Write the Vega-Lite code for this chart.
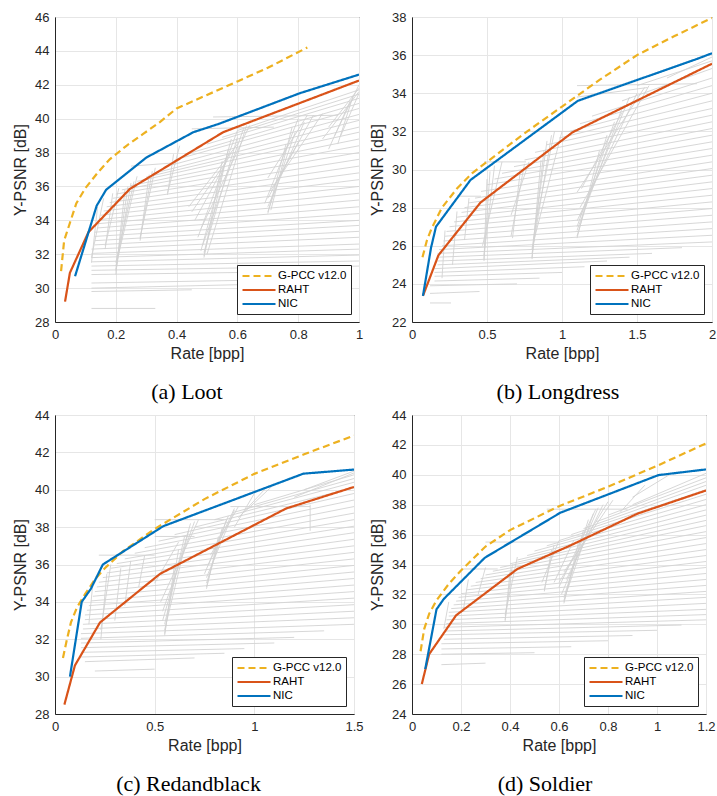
{
"$schema": "https://vega.github.io/schema/vega-lite/v6.json",
"background": "white",
"padding": {"left": 12, "top": 10, "right": 0, "bottom": 0},
"config": {
  "view": {"stroke": "#262626", "strokeWidth": 1},
  "font": "Liberation Sans",
  "axis": {"labelFont": "Liberation Sans", "labelFontSize": 13, "labelColor": "#262626", "titleFont": "Liberation Sans", "titleFontSize": 16, "titleFontWeight": "normal", "titleColor": "#262626", "gridColor": "#e6e6e6", "domainColor": "#262626", "ticks": false, "labelPadding": 6, "format": "~g", "labelFlush": false, "labelOverlap": false},
  "axisY": {"titlePadding": 6},
  "axisX": {"titlePadding": 4},
  "legend": {"orient": "bottom-right", "offset": 8, "fillColor": "white", "strokeColor": "#262626", "padding": 4, "labelFont": "Liberation Sans", "labelFontSize": 11.5, "labelColor": "#000", "symbolType": "M-1,0H5", "symbolSize": 121, "symbolStrokeWidth": 2.2, "labelOffset": 23, "rowPadding": 1, "cornerRadius": 0},
  "title": {"orient": "bottom", "font": "Liberation Serif", "fontSize": 22, "fontWeight": "normal", "color": "#000", "offset": 21, "frame": "group", "anchor": "middle"}
},
"resolve": {"scale": {"color": "independent", "strokeDash": "independent"}, "legend": {"color": "independent", "strokeDash": "independent"}},
"datasets": {
"m": [
{"p":"a","s":"G-PCC v12.0","x":0.02,"y":31.0},{"p":"a","s":"G-PCC v12.0","x":0.03,"y":32.8},{"p":"a","s":"G-PCC v12.0","x":0.05,"y":33.9},{"p":"a","s":"G-PCC v12.0","x":0.07,"y":35.0},{"p":"a","s":"G-PCC v12.0","x":0.1,"y":35.9},{"p":"a","s":"G-PCC v12.0","x":0.14,"y":36.8},{"p":"a","s":"G-PCC v12.0","x":0.18,"y":37.6},{"p":"a","s":"G-PCC v12.0","x":0.235,"y":38.4},{"p":"a","s":"G-PCC v12.0","x":0.29,"y":39.1},{"p":"a","s":"G-PCC v12.0","x":0.345,"y":39.8},{"p":"a","s":"G-PCC v12.0","x":0.4,"y":40.6},{"p":"a","s":"G-PCC v12.0","x":0.5,"y":41.4},{"p":"a","s":"G-PCC v12.0","x":0.6,"y":42.2},{"p":"a","s":"G-PCC v12.0","x":0.7,"y":43.0},{"p":"a","s":"G-PCC v12.0","x":0.83,"y":44.2},
{"p":"a","s":"RAHT","x":0.033,"y":29.2},{"p":"a","s":"RAHT","x":0.049,"y":30.9},{"p":"a","s":"RAHT","x":0.11,"y":33.3},{"p":"a","s":"RAHT","x":0.246,"y":35.85},{"p":"a","s":"RAHT","x":0.553,"y":39.2},{"p":"a","s":"RAHT","x":1.0,"y":42.25},
{"p":"a","s":"NIC","x":0.066,"y":30.7},{"p":"a","s":"NIC","x":0.137,"y":34.86},{"p":"a","s":"NIC","x":0.168,"y":35.8},{"p":"a","s":"NIC","x":0.3,"y":37.7},{"p":"a","s":"NIC","x":0.455,"y":39.2},{"p":"a","s":"NIC","x":0.54,"y":39.7},{"p":"a","s":"NIC","x":0.805,"y":41.5},{"p":"a","s":"NIC","x":1.0,"y":42.6},
{"p":"b","s":"G-PCC v12.0","x":0.07,"y":25.4},{"p":"b","s":"G-PCC v12.0","x":0.1,"y":26.3},{"p":"b","s":"G-PCC v12.0","x":0.13,"y":26.9},{"p":"b","s":"G-PCC v12.0","x":0.2,"y":28.0},{"p":"b","s":"G-PCC v12.0","x":0.3,"y":29.0},{"p":"b","s":"G-PCC v12.0","x":0.4,"y":29.8},{"p":"b","s":"G-PCC v12.0","x":0.5,"y":30.4},{"p":"b","s":"G-PCC v12.0","x":0.75,"y":31.9},{"p":"b","s":"G-PCC v12.0","x":1.0,"y":33.3},{"p":"b","s":"G-PCC v12.0","x":1.25,"y":34.7},{"p":"b","s":"G-PCC v12.0","x":1.5,"y":36.0},{"p":"b","s":"G-PCC v12.0","x":1.75,"y":37.0},{"p":"b","s":"G-PCC v12.0","x":2.0,"y":37.95},
{"p":"b","s":"RAHT","x":0.073,"y":23.37},{"p":"b","s":"RAHT","x":0.176,"y":25.5},{"p":"b","s":"RAHT","x":0.457,"y":28.27},{"p":"b","s":"RAHT","x":1.07,"y":31.95},{"p":"b","s":"RAHT","x":2.0,"y":35.55},
{"p":"b","s":"NIC","x":0.073,"y":23.37},{"p":"b","s":"NIC","x":0.127,"y":25.9},{"p":"b","s":"NIC","x":0.16,"y":27.0},{"p":"b","s":"NIC","x":0.39,"y":29.45},{"p":"b","s":"NIC","x":1.105,"y":33.6},{"p":"b","s":"NIC","x":1.9,"y":35.8},{"p":"b","s":"NIC","x":2.0,"y":36.1},
{"p":"c","s":"G-PCC v12.0","x":0.04,"y":31.0},{"p":"c","s":"G-PCC v12.0","x":0.06,"y":32.0},{"p":"c","s":"G-PCC v12.0","x":0.08,"y":32.9},{"p":"c","s":"G-PCC v12.0","x":0.11,"y":33.7},{"p":"c","s":"G-PCC v12.0","x":0.15,"y":34.4},{"p":"c","s":"G-PCC v12.0","x":0.2,"y":35.2},{"p":"c","s":"G-PCC v12.0","x":0.25,"y":35.8},{"p":"c","s":"G-PCC v12.0","x":0.34,"y":36.7},{"p":"c","s":"G-PCC v12.0","x":0.5,"y":37.9},{"p":"c","s":"G-PCC v12.0","x":0.75,"y":39.5},{"p":"c","s":"G-PCC v12.0","x":1.0,"y":40.85},{"p":"c","s":"G-PCC v12.0","x":1.25,"y":41.9},{"p":"c","s":"G-PCC v12.0","x":1.5,"y":42.9},
{"p":"c","s":"RAHT","x":0.047,"y":28.5},{"p":"c","s":"RAHT","x":0.1,"y":30.6},{"p":"c","s":"RAHT","x":0.226,"y":32.9},{"p":"c","s":"RAHT","x":0.527,"y":35.5},{"p":"c","s":"RAHT","x":1.16,"y":39.0},{"p":"c","s":"RAHT","x":1.5,"y":40.15},
{"p":"c","s":"NIC","x":0.075,"y":30.0},{"p":"c","s":"NIC","x":0.134,"y":34.0},{"p":"c","s":"NIC","x":0.18,"y":34.7},{"p":"c","s":"NIC","x":0.24,"y":36.0},{"p":"c","s":"NIC","x":0.543,"y":38.05},{"p":"c","s":"NIC","x":1.246,"y":40.86},{"p":"c","s":"NIC","x":1.5,"y":41.08},
{"p":"d","s":"G-PCC v12.0","x":0.035,"y":28.2},{"p":"d","s":"G-PCC v12.0","x":0.05,"y":29.7},{"p":"d","s":"G-PCC v12.0","x":0.07,"y":30.7},{"p":"d","s":"G-PCC v12.0","x":0.1,"y":31.6},{"p":"d","s":"G-PCC v12.0","x":0.15,"y":32.7},{"p":"d","s":"G-PCC v12.0","x":0.2,"y":33.6},{"p":"d","s":"G-PCC v12.0","x":0.3,"y":35.2},{"p":"d","s":"G-PCC v12.0","x":0.4,"y":36.3},{"p":"d","s":"G-PCC v12.0","x":0.5,"y":37.1},{"p":"d","s":"G-PCC v12.0","x":0.6,"y":37.9},{"p":"d","s":"G-PCC v12.0","x":0.8,"y":39.2},{"p":"d","s":"G-PCC v12.0","x":1.0,"y":40.6},{"p":"d","s":"G-PCC v12.0","x":1.2,"y":42.1},
{"p":"d","s":"RAHT","x":0.04,"y":26.0},{"p":"d","s":"RAHT","x":0.07,"y":28.0},{"p":"d","s":"RAHT","x":0.18,"y":30.6},{"p":"d","s":"RAHT","x":0.43,"y":33.7},{"p":"d","s":"RAHT","x":0.65,"y":35.3},{"p":"d","s":"RAHT","x":0.92,"y":37.4},{"p":"d","s":"RAHT","x":1.2,"y":38.95},
{"p":"d","s":"NIC","x":0.054,"y":27.0},{"p":"d","s":"NIC","x":0.1,"y":31.0},{"p":"d","s":"NIC","x":0.13,"y":31.7},{"p":"d","s":"NIC","x":0.297,"y":34.45},{"p":"d","s":"NIC","x":0.605,"y":37.46},{"p":"d","s":"NIC","x":1.006,"y":39.98},{"p":"d","s":"NIC","x":1.2,"y":40.36}
],
"g": [
{"p":"a","x":0.12,"y":28.8,"x2":0.33,"y2":28.8},{"p":"a","x":0.12,"y":29.8,"x2":0.45,"y2":29.9},{"p":"a","x":0.12,"y":30.0,"x2":0.6,"y2":30.2},{"p":"a","x":0.12,"y":30.3,"x2":0.75,"y2":30.5},{"p":"a","x":0.12,"y":30.8,"x2":0.92,"y2":31.0},{"p":"a","x":0.12,"y":31.05,"x2":1.0,"y2":31.3},{"p":"a","x":0.12,"y":31.3,"x2":1.0,"y2":31.6},{"p":"a","x":0.12,"y":31.55,"x2":1.0,"y2":31.95},{"p":"a","x":0.12,"y":31.8,"x2":1.0,"y2":32.3},{"p":"a","x":0.12,"y":32.05,"x2":1.0,"y2":32.6},{"p":"a","x":0.12,"y":32.3,"x2":1.0,"y2":33.0},{"p":"a","x":0.13,"y":32.55,"x2":1.0,"y2":33.35},{"p":"a","x":0.13,"y":32.8,"x2":1.0,"y2":33.7},{"p":"a","x":0.13,"y":33.05,"x2":1.0,"y2":34.0},{"p":"a","x":0.13,"y":33.3,"x2":1.0,"y2":34.4},{"p":"a","x":0.14,"y":33.55,"x2":1.0,"y2":34.8},{"p":"a","x":0.14,"y":33.8,"x2":1.0,"y2":35.2},{"p":"a","x":0.15,"y":34.05,"x2":1.0,"y2":35.6},{"p":"a","x":0.15,"y":34.3,"x2":1.0,"y2":36.0},{"p":"a","x":0.16,"y":34.55,"x2":1.0,"y2":36.4},{"p":"a","x":0.17,"y":34.8,"x2":1.0,"y2":36.8},{"p":"a","x":0.18,"y":35.05,"x2":1.0,"y2":37.2},{"p":"a","x":0.19,"y":35.3,"x2":1.0,"y2":37.6},{"p":"a","x":0.2,"y":35.55,"x2":1.0,"y2":38.0},{"p":"a","x":0.22,"y":35.8,"x2":1.0,"y2":38.4},{"p":"a","x":0.25,"y":36.05,"x2":1.0,"y2":38.8},{"p":"a","x":0.27,"y":36.3,"x2":1.0,"y2":39.2},{"p":"a","x":0.3,"y":36.55,"x2":1.0,"y2":39.5},{"p":"a","x":0.33,"y":36.8,"x2":1.0,"y2":39.9},{"p":"a","x":0.37,"y":37.2,"x2":1.0,"y2":40.25},{"p":"a","x":0.4,"y":37.6,"x2":1.0,"y2":40.6},{"p":"a","x":0.45,"y":38.0,"x2":1.0,"y2":40.9},{"p":"a","x":0.5,"y":38.5,"x2":1.0,"y2":41.2},{"p":"a","x":0.55,"y":38.9,"x2":1.0,"y2":41.45},{"p":"a","x":0.6,"y":39.3,"x2":1.0,"y2":41.7},
{"p":"a","x":0.45,"y":39.4,"x2":0.72,"y2":39.5},{"p":"a","x":0.52,"y":40.1,"x2":0.93,"y2":40.2},{"p":"a","x":0.25,"y":37.2,"x2":0.4,"y2":37.4},
{"p":"a","x":0.12,"y":31.5,"x2":0.14,"y2":34.8},{"p":"a","x":0.12,"y":31.8,"x2":0.16,"y2":35.3},{"p":"a","x":0.165,"y":32.3,"x2":0.19,"y2":35.6},{"p":"a","x":0.165,"y":32.5,"x2":0.21,"y2":35.9},{"p":"a","x":0.2,"y":30.8,"x2":0.23,"y2":35.8},{"p":"a","x":0.2,"y":31.0,"x2":0.25,"y2":36.2},{"p":"a","x":0.2,"y":31.1,"x2":0.24,"y2":36.0},{"p":"a","x":0.2,"y":31.3,"x2":0.27,"y2":36.6},{"p":"a","x":0.2,"y":31.5,"x2":0.26,"y2":36.3},{"p":"a","x":0.28,"y":32.8,"x2":0.31,"y2":36.7},{"p":"a","x":0.28,"y":32.9,"x2":0.32,"y2":36.9},{"p":"a","x":0.28,"y":33.0,"x2":0.33,"y2":37.1},{"p":"a","x":0.37,"y":35.5,"x2":0.39,"y2":37.9},{"p":"a","x":0.37,"y":35.6,"x2":0.41,"y2":38.4},
{"p":"a","x":0.49,"y":31.8,"x2":0.55,"y2":37.5},{"p":"a","x":0.49,"y":31.9,"x2":0.57,"y2":38.2},{"p":"a","x":0.49,"y":32.1,"x2":0.6,"y2":38.9},{"p":"a","x":0.48,"y":32.2,"x2":0.58,"y2":38.8},{"p":"a","x":0.485,"y":32.5,"x2":0.62,"y2":39.4},{"p":"a","x":0.47,"y":33.0,"x2":0.6,"y2":39.3},{"p":"a","x":0.5,"y":32.0,"x2":0.63,"y2":39.6},{"p":"a","x":0.48,"y":33.5,"x2":0.64,"y2":39.6},{"p":"a","x":0.46,"y":34.0,"x2":0.58,"y2":38.0},{"p":"a","x":0.45,"y":34.5,"x2":0.56,"y2":37.4},{"p":"a","x":0.44,"y":34.8,"x2":0.6,"y2":38.5},
{"p":"a","x":0.7,"y":34.4,"x2":0.76,"y2":38.5},{"p":"a","x":0.7,"y":34.5,"x2":0.79,"y2":39.2},{"p":"a","x":0.7,"y":34.8,"x2":0.82,"y2":39.8},{"p":"a","x":0.69,"y":35.0,"x2":0.8,"y2":40.0},{"p":"a","x":0.7,"y":35.3,"x2":0.85,"y2":40.2},{"p":"a","x":0.71,"y":35.8,"x2":0.88,"y2":40.3},{"p":"a","x":0.72,"y":36.0,"x2":0.8,"y2":38.6},{"p":"a","x":0.7,"y":36.5,"x2":0.83,"y2":40.2},{"p":"a","x":0.71,"y":34.6,"x2":0.78,"y2":39.5},
{"p":"a","x":0.93,"y":38.5,"x2":0.98,"y2":41.3},{"p":"a","x":0.9,"y":38.2,"x2":0.97,"y2":41.0},{"p":"a","x":0.94,"y":39.0,"x2":1.0,"y2":41.5},{"p":"a","x":0.88,"y":38.8,"x2":1.0,"y2":41.6},{"p":"a","x":0.9,"y":39.5,"x2":1.0,"y2":41.8},{"p":"a","x":0.92,"y":39.0,"x2":1.0,"y2":42.0},
{"p":"b","x":0.12,"y":23.0,"x2":0.26,"y2":23.0},{"p":"b","x":0.12,"y":23.5,"x2":0.45,"y2":23.6},{"p":"b","x":0.12,"y":23.9,"x2":0.7,"y2":24.0},{"p":"b","x":0.15,"y":24.15,"x2":0.85,"y2":24.3},{"p":"b","x":0.15,"y":24.4,"x2":1.0,"y2":24.6},{"p":"b","x":0.15,"y":24.6,"x2":1.15,"y2":24.9},{"p":"b","x":0.15,"y":24.8,"x2":1.3,"y2":25.2},{"p":"b","x":0.17,"y":25.0,"x2":1.45,"y2":25.4},{"p":"b","x":0.17,"y":25.2,"x2":1.6,"y2":25.6},{"p":"b","x":0.17,"y":25.4,"x2":1.8,"y2":25.9},{"p":"b","x":0.17,"y":25.6,"x2":2.0,"y2":26.2},{"p":"b","x":0.18,"y":25.8,"x2":2.0,"y2":26.55},{"p":"b","x":0.2,"y":26.0,"x2":2.0,"y2":26.9},{"p":"b","x":0.21,"y":26.25,"x2":2.0,"y2":27.25},{"p":"b","x":0.22,"y":26.5,"x2":2.0,"y2":27.6},{"p":"b","x":0.23,"y":26.75,"x2":2.0,"y2":27.95},{"p":"b","x":0.25,"y":27.0,"x2":2.0,"y2":28.3},{"p":"b","x":0.28,"y":27.25,"x2":2.0,"y2":28.65},{"p":"b","x":0.3,"y":27.5,"x2":2.0,"y2":29.0},{"p":"b","x":0.33,"y":27.75,"x2":2.0,"y2":29.35},{"p":"b","x":0.35,"y":28.0,"x2":2.0,"y2":29.7},{"p":"b","x":0.38,"y":28.25,"x2":2.0,"y2":30.05},{"p":"b","x":0.42,"y":28.5,"x2":2.0,"y2":30.4},{"p":"b","x":0.46,"y":28.85,"x2":2.0,"y2":30.75},{"p":"b","x":0.5,"y":29.2,"x2":2.0,"y2":31.1},{"p":"b","x":0.55,"y":29.5,"x2":2.0,"y2":31.45},{"p":"b","x":0.6,"y":29.8,"x2":2.0,"y2":31.8},{"p":"b","x":0.68,"y":30.15,"x2":2.0,"y2":32.15},{"p":"b","x":0.75,"y":30.5,"x2":2.0,"y2":32.5},{"p":"b","x":0.82,"y":30.9,"x2":2.0,"y2":32.85},{"p":"b","x":0.9,"y":31.3,"x2":2.0,"y2":33.2},{"p":"b","x":0.98,"y":31.65,"x2":2.0,"y2":33.6},{"p":"b","x":1.05,"y":32.0,"x2":2.0,"y2":34.0},{"p":"b","x":1.12,"y":32.4,"x2":2.0,"y2":34.4},{"p":"b","x":1.2,"y":32.8,"x2":2.0,"y2":34.8},{"p":"b","x":1.4,"y":33.6,"x2":2.0,"y2":35.3},
{"p":"b","x":0.3,"y":28.6,"x2":0.46,"y2":28.6},{"p":"b","x":0.48,"y":30.4,"x2":0.76,"y2":30.4},{"p":"b","x":0.76,"y":32.0,"x2":1.12,"y2":32.0},{"p":"b","x":1.1,"y":34.4,"x2":1.9,"y2":34.5},{"p":"b","x":1.1,"y":33.8,"x2":1.57,"y2":34.3},
{"p":"b","x":0.2,"y":24.3,"x2":0.22,"y2":26.8},{"p":"b","x":0.27,"y":25.0,"x2":0.3,"y2":27.8},{"p":"b","x":0.35,"y":26.3,"x2":0.38,"y2":28.5},{"p":"b","x":0.48,"y":25.2,"x2":0.5,"y2":29.5},{"p":"b","x":0.48,"y":25.3,"x2":0.52,"y2":29.9},{"p":"b","x":0.48,"y":25.5,"x2":0.55,"y2":30.2},{"p":"b","x":0.47,"y":26.0,"x2":0.6,"y2":30.4},{"p":"b","x":0.67,"y":26.4,"x2":0.72,"y2":29.8},{"p":"b","x":0.66,"y":26.5,"x2":0.75,"y2":30.3},{"p":"b","x":0.66,"y":27.6,"x2":0.78,"y2":30.4},{"p":"b","x":0.8,"y":25.3,"x2":0.86,"y2":30.5},{"p":"b","x":0.8,"y":25.4,"x2":0.88,"y2":31.0},{"p":"b","x":0.8,"y":25.6,"x2":0.93,"y2":31.8},{"p":"b","x":0.8,"y":25.8,"x2":0.9,"y2":31.5},{"p":"b","x":0.81,"y":26.2,"x2":1.0,"y2":32.0},{"p":"b","x":0.82,"y":27.0,"x2":0.95,"y2":32.0},{"p":"b","x":1.1,"y":26.4,"x2":1.25,"y2":31.0},{"p":"b","x":1.1,"y":26.5,"x2":1.3,"y2":31.8},{"p":"b","x":1.1,"y":26.8,"x2":1.4,"y2":33.2},{"p":"b","x":1.1,"y":27.0,"x2":1.35,"y2":32.5},{"p":"b","x":1.1,"y":27.3,"x2":1.5,"y2":34.0},{"p":"b","x":1.12,"y":27.5,"x2":1.45,"y2":33.8},{"p":"b","x":1.12,"y":28.0,"x2":1.58,"y2":34.4},{"p":"b","x":1.1,"y":28.8,"x2":1.55,"y2":34.3},{"p":"b","x":1.13,"y":29.0,"x2":1.4,"y2":33.0},{"p":"b","x":1.5,"y":34.4,"x2":2.0,"y2":35.7},{"p":"b","x":1.7,"y":34.8,"x2":2.0,"y2":35.9},
{"p":"c","x":0.2,"y":30.3,"x2":0.5,"y2":30.4},{"p":"c","x":0.15,"y":30.8,"x2":0.7,"y2":31.0},{"p":"c","x":0.13,"y":31.05,"x2":0.85,"y2":31.25},{"p":"c","x":0.13,"y":31.3,"x2":0.95,"y2":31.5},{"p":"c","x":0.13,"y":31.55,"x2":1.1,"y2":31.8},{"p":"c","x":0.13,"y":31.8,"x2":1.2,"y2":32.1},{"p":"c","x":0.13,"y":32.05,"x2":1.35,"y2":32.45},{"p":"c","x":0.13,"y":32.3,"x2":1.5,"y2":32.8},{"p":"c","x":0.14,"y":32.55,"x2":1.5,"y2":33.15},{"p":"c","x":0.14,"y":32.8,"x2":1.5,"y2":33.5},{"p":"c","x":0.15,"y":33.05,"x2":1.5,"y2":33.85},{"p":"c","x":0.15,"y":33.3,"x2":1.5,"y2":34.2},{"p":"c","x":0.16,"y":33.55,"x2":1.5,"y2":34.55},{"p":"c","x":0.17,"y":33.8,"x2":1.5,"y2":34.9},{"p":"c","x":0.18,"y":34.05,"x2":1.5,"y2":35.25},{"p":"c","x":0.19,"y":34.3,"x2":1.5,"y2":35.6},{"p":"c","x":0.2,"y":34.55,"x2":1.5,"y2":35.95},{"p":"c","x":0.21,"y":34.8,"x2":1.5,"y2":36.3},{"p":"c","x":0.22,"y":35.05,"x2":1.5,"y2":36.65},{"p":"c","x":0.24,"y":35.3,"x2":1.5,"y2":37.0},{"p":"c","x":0.26,"y":35.55,"x2":1.5,"y2":37.35},{"p":"c","x":0.28,"y":35.8,"x2":1.5,"y2":37.7},{"p":"c","x":0.31,"y":36.05,"x2":1.5,"y2":38.05},{"p":"c","x":0.35,"y":36.3,"x2":1.5,"y2":38.4},{"p":"c","x":0.4,"y":36.6,"x2":1.5,"y2":38.75},{"p":"c","x":0.45,"y":36.9,"x2":1.5,"y2":39.1},{"p":"c","x":0.52,"y":37.25,"x2":1.5,"y2":39.45},{"p":"c","x":0.6,"y":37.6,"x2":1.5,"y2":39.8},{"p":"c","x":0.7,"y":38.0,"x2":1.5,"y2":40.1},{"p":"c","x":0.8,"y":38.4,"x2":1.5,"y2":40.4},{"p":"c","x":0.9,"y":38.8,"x2":1.5,"y2":40.6},{"p":"c","x":1.0,"y":39.2,"x2":1.5,"y2":40.8},
{"p":"c","x":0.22,"y":36.5,"x2":0.5,"y2":36.5},{"p":"c","x":0.5,"y":37.5,"x2":0.7,"y2":37.5},{"p":"c","x":0.5,"y":38.4,"x2":0.85,"y2":38.4},{"p":"c","x":0.88,"y":39.1,"x2":1.28,"y2":39.1},{"p":"c","x":1.28,"y":37.8,"x2":1.28,"y2":39.2},
{"p":"c","x":0.17,"y":32.8,"x2":0.19,"y2":35.0},{"p":"c","x":0.23,"y":32.0,"x2":0.26,"y2":35.5},{"p":"c","x":0.23,"y":32.5,"x2":0.28,"y2":36.0},{"p":"c","x":0.3,"y":33.0,"x2":0.33,"y2":35.8},{"p":"c","x":0.35,"y":33.8,"x2":0.38,"y2":36.2},{"p":"c","x":0.42,"y":34.8,"x2":0.45,"y2":36.5},{"p":"c","x":0.55,"y":32.2,"x2":0.6,"y2":36.0},{"p":"c","x":0.55,"y":32.3,"x2":0.62,"y2":36.8},{"p":"c","x":0.55,"y":32.5,"x2":0.67,"y2":37.8},{"p":"c","x":0.55,"y":32.8,"x2":0.65,"y2":37.5},{"p":"c","x":0.54,"y":33.0,"x2":0.68,"y2":38.2},{"p":"c","x":0.54,"y":33.5,"x2":0.7,"y2":38.3},{"p":"c","x":0.53,"y":34.0,"x2":0.72,"y2":38.4},{"p":"c","x":0.5,"y":35.0,"x2":0.62,"y2":37.2},{"p":"c","x":0.76,"y":34.7,"x2":0.82,"y2":37.5},{"p":"c","x":0.76,"y":34.8,"x2":0.84,"y2":38.0},{"p":"c","x":0.76,"y":35.0,"x2":0.86,"y2":38.4},{"p":"c","x":0.76,"y":35.3,"x2":0.9,"y2":38.9},{"p":"c","x":0.75,"y":35.5,"x2":0.87,"y2":38.6},{"p":"c","x":0.77,"y":36.0,"x2":0.9,"y2":39.0},{"p":"c","x":0.78,"y":36.5,"x2":0.92,"y2":39.1},{"p":"c","x":0.9,"y":38.0,"x2":1.0,"y2":39.8},{"p":"c","x":0.92,"y":38.5,"x2":1.05,"y2":40.0},{"p":"c","x":0.95,"y":38.8,"x2":1.1,"y2":40.3},{"p":"c","x":1.25,"y":40.0,"x2":1.5,"y2":41.0},{"p":"c","x":1.2,"y":39.6,"x2":1.5,"y2":40.9},
{"p":"d","x":0.12,"y":27.3,"x2":0.3,"y2":27.4},{"p":"d","x":0.12,"y":28.0,"x2":0.5,"y2":28.1},{"p":"d","x":0.12,"y":28.35,"x2":0.65,"y2":28.5},{"p":"d","x":0.12,"y":28.7,"x2":0.8,"y2":28.9},{"p":"d","x":0.13,"y":29.0,"x2":0.9,"y2":29.25},{"p":"d","x":0.13,"y":29.3,"x2":1.0,"y2":29.6},{"p":"d","x":0.13,"y":29.55,"x2":1.1,"y2":29.95},{"p":"d","x":0.13,"y":29.8,"x2":1.2,"y2":30.3},{"p":"d","x":0.14,"y":30.05,"x2":1.2,"y2":30.65},{"p":"d","x":0.14,"y":30.3,"x2":1.2,"y2":31.0},{"p":"d","x":0.15,"y":30.55,"x2":1.2,"y2":31.4},{"p":"d","x":0.15,"y":30.8,"x2":1.2,"y2":31.8},{"p":"d","x":0.16,"y":31.05,"x2":1.2,"y2":32.2},{"p":"d","x":0.17,"y":31.3,"x2":1.2,"y2":32.6},{"p":"d","x":0.18,"y":31.55,"x2":1.2,"y2":33.0},{"p":"d","x":0.19,"y":31.8,"x2":1.2,"y2":33.4},{"p":"d","x":0.2,"y":32.05,"x2":1.2,"y2":33.8},{"p":"d","x":0.22,"y":32.3,"x2":1.2,"y2":34.2},{"p":"d","x":0.24,"y":32.55,"x2":1.2,"y2":34.6},{"p":"d","x":0.26,"y":32.8,"x2":1.2,"y2":35.0},{"p":"d","x":0.28,"y":33.05,"x2":1.2,"y2":35.4},{"p":"d","x":0.3,"y":33.3,"x2":1.2,"y2":35.8},{"p":"d","x":0.33,"y":33.55,"x2":1.2,"y2":36.2},{"p":"d","x":0.36,"y":33.8,"x2":1.2,"y2":36.6},{"p":"d","x":0.4,"y":34.05,"x2":1.2,"y2":36.95},{"p":"d","x":0.43,"y":34.3,"x2":1.2,"y2":37.3},{"p":"d","x":0.47,"y":34.6,"x2":1.2,"y2":37.65},{"p":"d","x":0.5,"y":34.9,"x2":1.2,"y2":38.0},{"p":"d","x":0.55,"y":35.25,"x2":1.2,"y2":38.35},{"p":"d","x":0.6,"y":35.6,"x2":1.2,"y2":38.7},{"p":"d","x":0.65,"y":36.0,"x2":1.2,"y2":39.0},{"p":"d","x":0.7,"y":36.4,"x2":1.2,"y2":39.3},{"p":"d","x":0.75,"y":36.85,"x2":1.2,"y2":39.55},{"p":"d","x":0.8,"y":37.3,"x2":1.2,"y2":39.8},{"p":"d","x":0.9,"y":38.0,"x2":1.2,"y2":40.1},
{"p":"d","x":0.2,"y":33.7,"x2":0.35,"y2":33.7},{"p":"d","x":0.3,"y":35.5,"x2":0.6,"y2":35.5},{"p":"d","x":0.55,"y":37.7,"x2":0.88,"y2":37.7},
{"p":"d","x":0.13,"y":29.7,"x2":0.15,"y2":31.5},{"p":"d","x":0.21,"y":31.0,"x2":0.23,"y2":33.0},{"p":"d","x":0.27,"y":32.0,"x2":0.3,"y2":33.8},{"p":"d","x":0.38,"y":30.2,"x2":0.4,"y2":33.5},{"p":"d","x":0.38,"y":30.3,"x2":0.41,"y2":34.0},{"p":"d","x":0.38,"y":30.6,"x2":0.43,"y2":34.5},{"p":"d","x":0.54,"y":32.2,"x2":0.57,"y2":35.0},{"p":"d","x":0.54,"y":32.3,"x2":0.58,"y2":35.3},{"p":"d","x":0.53,"y":32.8,"x2":0.6,"y2":35.6},{"p":"d","x":0.58,"y":32.8,"x2":0.66,"y2":35.6},{"p":"d","x":0.62,"y":31.4,"x2":0.68,"y2":35.5},{"p":"d","x":0.62,"y":31.5,"x2":0.7,"y2":36.3},{"p":"d","x":0.62,"y":31.6,"x2":0.74,"y2":37.4},{"p":"d","x":0.62,"y":31.8,"x2":0.72,"y2":37.0},{"p":"d","x":0.61,"y":32.0,"x2":0.76,"y2":37.8},{"p":"d","x":0.6,"y":32.5,"x2":0.75,"y2":37.7},{"p":"d","x":0.6,"y":32.8,"x2":0.8,"y2":38.2},{"p":"d","x":0.63,"y":33.0,"x2":0.78,"y2":38.0},{"p":"d","x":0.62,"y":33.5,"x2":0.82,"y2":38.3},{"p":"d","x":0.85,"y":37.5,"x2":0.95,"y2":39.3},{"p":"d","x":0.9,"y":38.5,"x2":1.05,"y2":40.0}
]
},
"vconcat": [
{"hconcat": [
{"width": 304, "height": 305, "title": {"text": "(a) Loot", "dx": -20},
 "layer": [
  {"data": {"name": "g"}, "transform": [{"filter": "datum.p === 'a'"}], "mark": {"type": "rule", "color": "#d2d2d2", "strokeWidth": 0.9, "clip": true},
   "encoding": {"x": {"field": "x", "type": "quantitative", "scale": {"domain": [0, 1], "nice": false, "zero": false}, "axis": {"values": [0, 0.2, 0.4, 0.6, 0.8, 1], "tickCount": 30, "title": "Rate [bpp]"}},
     "y": {"field": "y", "type": "quantitative", "scale": {"domain": [28, 46], "nice": false, "zero": false}, "axis": {"values": [28, 30, 32, 34, 36, 38, 40, 42, 44, 46], "tickCount": 30, "title": "Y-PSNR [dB]"}},
     "x2": {"field": "x2"}, "y2": {"field": "y2"}}},
  {"data": {"name": "m"}, "transform": [{"filter": "datum.p === 'a'"}], "mark": {"type": "line", "strokeWidth": 2.2, "clip": true},
   "encoding": {"x": {"field": "x", "type": "quantitative"}, "y": {"field": "y", "type": "quantitative"},
     "color": {"field": "s", "type": "nominal", "sort": null, "scale": {"domain": ["G-PCC v12.0", "RAHT", "NIC"], "range": ["#EDB120", "#D95319", "#0072BD"]}, "legend": {"title": null}},
     "strokeDash": {"field": "s", "type": "nominal", "sort": null, "scale": {"domain": ["G-PCC v12.0", "RAHT", "NIC"], "range": [[7, 4], [1, 0], [1, 0]]}, "legend": {"title": null}}}}
 ]},
{"width": 300, "height": 305, "title": {"text": "(b) Longdress", "dx": -4},
 "layer": [
  {"data": {"name": "g"}, "transform": [{"filter": "datum.p === 'b'"}], "mark": {"type": "rule", "color": "#d2d2d2", "strokeWidth": 0.9, "clip": true},
   "encoding": {"x": {"field": "x", "type": "quantitative", "scale": {"domain": [0, 2], "nice": false, "zero": false}, "axis": {"values": [0, 0.5, 1, 1.5, 2], "tickCount": 30, "title": "Rate [bpp]"}},
     "y": {"field": "y", "type": "quantitative", "scale": {"domain": [22, 38], "nice": false, "zero": false}, "axis": {"values": [22, 24, 26, 28, 30, 32, 34, 36, 38], "tickCount": 30, "title": "Y-PSNR [dB]"}},
     "x2": {"field": "x2"}, "y2": {"field": "y2"}}},
  {"data": {"name": "m"}, "transform": [{"filter": "datum.p === 'b'"}], "mark": {"type": "line", "strokeWidth": 2.2, "clip": true},
   "encoding": {"x": {"field": "x", "type": "quantitative"}, "y": {"field": "y", "type": "quantitative"},
     "color": {"field": "s", "type": "nominal", "sort": null, "scale": {"domain": ["G-PCC v12.0", "RAHT", "NIC"], "range": ["#EDB120", "#D95319", "#0072BD"]}, "legend": {"title": null}},
     "strokeDash": {"field": "s", "type": "nominal", "sort": null, "scale": {"domain": ["G-PCC v12.0", "RAHT", "NIC"], "range": [[7, 4], [1, 0], [1, 0]]}, "legend": {"title": null}}}}
 ]}
], "spacing": 5, "resolve": {"scale": {"color": "independent", "strokeDash": "independent"}, "legend": {"color": "independent", "strokeDash": "independent"}}},
{"hconcat": [
{"width": 299, "height": 299, "title": {"text": "(c) Redandblack", "dx": -16},
 "layer": [
  {"data": {"name": "g"}, "transform": [{"filter": "datum.p === 'c'"}], "mark": {"type": "rule", "color": "#d2d2d2", "strokeWidth": 0.9, "clip": true},
   "encoding": {"x": {"field": "x", "type": "quantitative", "scale": {"domain": [0, 1.5], "nice": false, "zero": false}, "axis": {"values": [0, 0.5, 1, 1.5], "tickCount": 30, "title": "Rate [bpp]"}},
     "y": {"field": "y", "type": "quantitative", "scale": {"domain": [28, 44], "nice": false, "zero": false}, "axis": {"values": [28, 30, 32, 34, 36, 38, 40, 42, 44], "tickCount": 30, "title": "Y-PSNR [dB]"}},
     "x2": {"field": "x2"}, "y2": {"field": "y2"}}},
  {"data": {"name": "m"}, "transform": [{"filter": "datum.p === 'c'"}], "mark": {"type": "line", "strokeWidth": 2.2, "clip": true},
   "encoding": {"x": {"field": "x", "type": "quantitative"}, "y": {"field": "y", "type": "quantitative"},
     "color": {"field": "s", "type": "nominal", "sort": null, "scale": {"domain": ["G-PCC v12.0", "RAHT", "NIC"], "range": ["#EDB120", "#D95319", "#0072BD"]}, "legend": {"title": null}},
     "strokeDash": {"field": "s", "type": "nominal", "sort": null, "scale": {"domain": ["G-PCC v12.0", "RAHT", "NIC"], "range": [[7, 4], [1, 0], [1, 0]]}, "legend": {"title": null}}}}
 ]},
{"width": 294, "height": 299, "title": {"text": "(d) Soldier", "dx": -14},
 "layer": [
  {"data": {"name": "g"}, "transform": [{"filter": "datum.p === 'd'"}], "mark": {"type": "rule", "color": "#d2d2d2", "strokeWidth": 0.9, "clip": true},
   "encoding": {"x": {"field": "x", "type": "quantitative", "scale": {"domain": [0, 1.2], "nice": false, "zero": false}, "axis": {"values": [0, 0.2, 0.4, 0.6, 0.8, 1, 1.2], "tickCount": 30, "title": "Rate [bpp]"}},
     "y": {"field": "y", "type": "quantitative", "scale": {"domain": [24, 44], "nice": false, "zero": false}, "axis": {"values": [24, 26, 28, 30, 32, 34, 36, 38, 40, 42, 44], "tickCount": 30, "title": "Y-PSNR [dB]"}},
     "x2": {"field": "x2"}, "y2": {"field": "y2"}}},
  {"data": {"name": "m"}, "transform": [{"filter": "datum.p === 'd'"}], "mark": {"type": "line", "strokeWidth": 2.2, "clip": true},
   "encoding": {"x": {"field": "x", "type": "quantitative"}, "y": {"field": "y", "type": "quantitative"},
     "color": {"field": "s", "type": "nominal", "sort": null, "scale": {"domain": ["G-PCC v12.0", "RAHT", "NIC"], "range": ["#EDB120", "#D95319", "#0072BD"]}, "legend": {"title": null}},
     "strokeDash": {"field": "s", "type": "nominal", "sort": null, "scale": {"domain": ["G-PCC v12.0", "RAHT", "NIC"], "range": [[7, 4], [1, 0], [1, 0]]}, "legend": {"title": null}}}}
 ]}
], "spacing": 5, "resolve": {"scale": {"color": "independent", "strokeDash": "independent"}, "legend": {"color": "independent", "strokeDash": "independent"}}}
],
"spacing": 4
}
